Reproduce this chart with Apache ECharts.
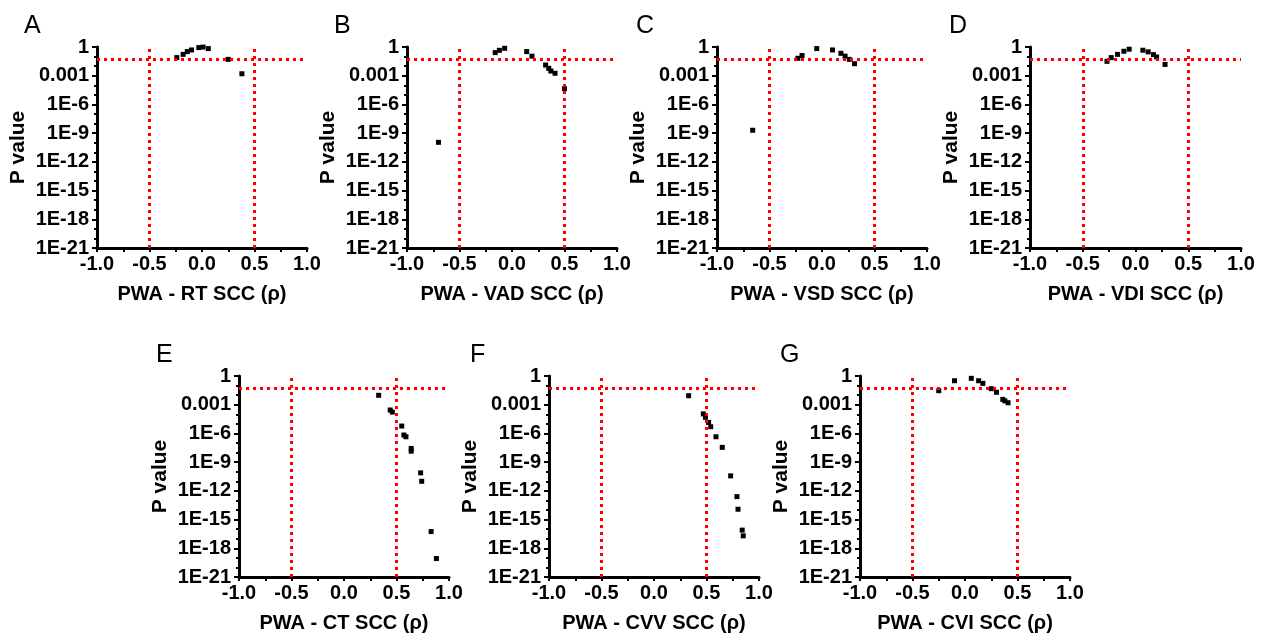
<!DOCTYPE html>
<html>
<head>
<meta charset="utf-8">
<script src="https://cdn.jsdelivr.net/npm/echarts@6/dist/echarts.min.js"></script>
<style>
  html, body { margin: 0; padding: 0; background: #fff; }
  #chart { width: 1262px; height: 635px; }
</style>
</head>
<body>
<div id="chart"></div>
<script>
// panel letters and x axis names
var letters = ['A', 'B', 'C', 'D', 'E', 'F', 'G'];
var xNames = ['PWA - RT SCC (ρ)', 'PWA - VAD SCC (ρ)', 'PWA - VSD SCC (ρ)', 'PWA - VDI SCC (ρ)',
              'PWA - CT SCC (ρ)', 'PWA - CVV SCC (ρ)', 'PWA - CVI SCC (ρ)'];

// spearman rho / p value per panel
var rhoA = [-0.24, -0.18, -0.14, -0.10, -0.03, 0.01, 0.06, 0.25, 0.38];
var pA   = [0.078, 0.17, 0.33, 0.49, 0.87, 0.98, 0.68, 0.051, 0.0016];

var rhoB = [-0.70, -0.16, -0.12, -0.07, 0.14, 0.19, 0.32, 0.35, 0.37, 0.41, 0.50];
var pB   = [1.1e-10, 0.26, 0.45, 0.73, 0.33, 0.11, 0.013, 0.0059, 0.0031, 0.0018, 4.4e-5];

var rhoC = [-0.66, -0.23, -0.19, -0.05, 0.10, 0.18, 0.22, 0.26, 0.31];
var pC   = [2e-9, 0.066, 0.13, 0.68, 0.49, 0.22, 0.11, 0.051, 0.018];

var rhoD = [-0.27, -0.23, -0.17, -0.11, -0.06, 0.07, 0.12, 0.17, 0.20, 0.28];
var pD   = [0.032, 0.078, 0.17, 0.36, 0.59, 0.46, 0.31, 0.16, 0.091, 0.015];

var rhoE = [0.33, 0.44, 0.46, 0.55, 0.57, 0.59, 0.64, 0.64, 0.73, 0.74, 0.83, 0.88];
var pE   = [0.0096, 2.8e-4, 1.7e-4, 5.9e-6, 6.8e-7, 4.5e-7, 2.7e-8, 1.4e-8, 7.6e-11, 1e-11, 5.6e-17, 8.5e-20];

var rhoF = [0.33, 0.47, 0.49, 0.52, 0.54, 0.59, 0.65, 0.73, 0.79, 0.80, 0.84, 0.85];
var pF   = [0.0087, 1.1e-4, 4.8e-5, 1.4e-5, 5e-6, 4.5e-7, 3.5e-8, 3.7e-11, 2.5e-13, 1.2e-14, 7.9e-17, 2e-17];

var rhoG = [-0.25, -0.10, 0.06, 0.13, 0.17, 0.25, 0.30, 0.36, 0.38, 0.41];
var pG   = [0.029, 0.32, 0.57, 0.32, 0.17, 0.047, 0.02, 0.0036, 0.0025, 0.0016];

// thresholds drawn as red dotted lines
var rhoCut = [-0.5, 0.5];
var pCut = 0.05;

var rhos = [rhoA, rhoB, rhoC, rhoD, rhoE, rhoF, rhoG];
var ps = [pA, pB, pC, pD, pE, pF, pG];

// echarts log axis chokes on 1e-21 (ticks round to 0), so plot log10(p) on a value axis
function lg(v) { return Math.log(v) / Math.LN10; }

var boxes = [
    [97, 47, 210], [407, 47, 210], [717, 47, 210], [1030, 47, 211],
    [239, 376, 210], [549, 376, 210], [860, 376, 210]
];
var letterX = [19, 329, 631, 944, 151, 465, 775];
var plotH = 201;
var FONT = 'Liberation Sans, Arial, sans-serif';

var chart = echarts.init(document.getElementById('chart'));

var grids = [], xAxes = [], yAxes = [], series = [], titles = [];
boxes.forEach(function (b, i) {
    grids.push({left: b[0], top: b[1], width: b[2], height: plotH});
    titles.push({
        text: letters[i], left: letterX[i], top: b[1] - 38,
        textStyle: {fontFamily: FONT, fontSize: 25, fontWeight: 'normal', color: '#000'}
    });
    xAxes.push({
        gridIndex: i, type: 'value', min: -1, max: 1, interval: 0.5,
        name: xNames[i], nameLocation: 'middle', nameGap: 36,
        nameTextStyle: {fontFamily: FONT, fontSize: 20, fontWeight: 'bold', color: '#000'},
        axisLine: {onZero: false, lineStyle: {color: '#000', width: 3}},
        axisTick: {length: 4, lineStyle: {color: '#000', width: 2}},
        minorTick: {show: true, splitNumber: 2, length: 4, lineStyle: {color: '#000', width: 2}},
        splitLine: {show: false},
        axisLabel: {
            margin: 6, fontFamily: FONT, fontSize: 20, fontWeight: 'bold', color: '#000',
            formatter: function (v) { return v.toFixed(1); }
        }
    });
    yAxes.push({
        gridIndex: i, type: 'value', min: -21, max: 0, interval: 3,
        name: 'P value', nameLocation: 'middle', nameGap: 68,
        nameTextStyle: {fontFamily: FONT, fontSize: 21, fontWeight: 'bold', color: '#000'},
        axisLine: {show: true, onZero: false, lineStyle: {color: '#000', width: 3}},
        axisTick: {show: true, length: 5, lineStyle: {color: '#000', width: 2}},
        minorTick: {show: true, splitNumber: 3, length: 3, lineStyle: {color: '#000', width: 2}},
        splitLine: {show: false},
        axisLabel: {
            margin: 8, fontFamily: FONT, fontSize: 20, fontWeight: 'bold', color: '#000',
            formatter: function (v) {
                if (v === 0) return '1';
                if (v === -3) return '0.001';
                return '1E' + v;
            }
        }
    });
    var pts = rhos[i].map(function (r, k) { return [r, lg(ps[i][k])]; });
    series.push({
        type: 'scatter', xAxisIndex: i, yAxisIndex: i, data: pts,
        symbol: 'rect', symbolSize: 5, itemStyle: {color: '#000', opacity: 1}, z: 3,
        markLine: {
            silent: true, symbol: 'none', animation: false,
            label: {show: false},
            lineStyle: {color: '#ff0000', width: 3, type: [3, 4], opacity: 1},
            data: [{xAxis: rhoCut[0]}, {xAxis: rhoCut[1]}, {yAxis: lg(pCut)}]
        }
    });
});

chart.setOption({
    animation: false,
    backgroundColor: '#fff',
    title: titles,
    grid: grids,
    xAxis: xAxes,
    yAxis: yAxes,
    series: series
});
</script>
</body>
</html>
